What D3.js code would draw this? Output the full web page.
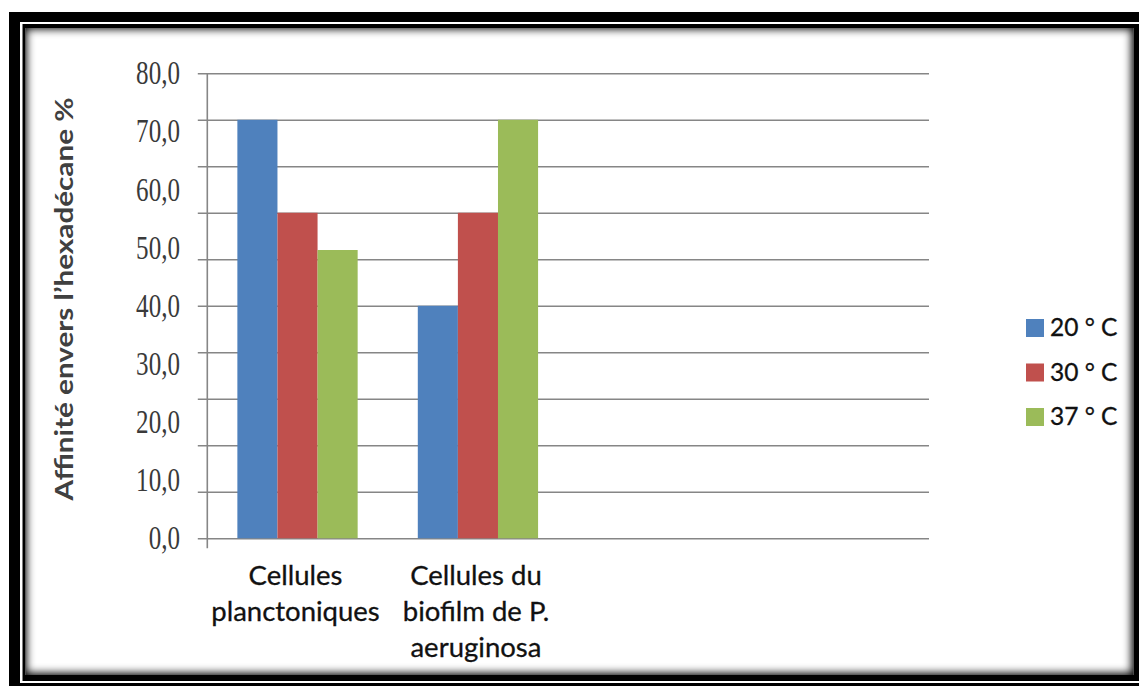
<!DOCTYPE html>
<html>
<head>
<meta charset="utf-8">
<script src="https://cdn.jsdelivr.net/npm/d3@7"></script>
<style>
  html, body { margin: 0; padding: 0; background: #fff; }
  svg { display: block; }
</style>
</head>
<body>
<svg id="chart" width="1139" height="686"></svg>
<script>
// Hydrophobicity (affinity for hexadecane) of P. aeruginosa cells by growth temperature
const categories = [["Cellules", "planctoniques"], ["Cellules du", "biofilm de P.", "aeruginosa"]];
const series = ["20 ° C", "30 ° C", "37 ° C"];
const values20 = [72, 40];
const values30 = [56, 56];
const values37 = [49.6, 72];
const yTickLabels = ["0,0", "10,0", "20,0", "30,0", "40,0", "50,0", "60,0", "70,0", "80,0"];
const yLabelValues = [0, 10, 20, 30, 40, 50, 60, 70, 80];
const yGridValues = [0, 8, 16, 24, 32, 40, 48, 56, 64, 72, 80];
const seriesValues = [values20, values30, values37];
const colors = ["#4F81BD", "#C0504D", "#9BBB59"];

const W = 1139, H = 686;
const svg = d3.select("#chart");
const defs = svg.append("defs");

// ---- double frame with inner shadow ----
svg.append("rect").attr("width", W).attr("height", H).attr("fill", "#fff");
svg.append("rect").attr("x", 9).attr("y", 12).attr("width", W).attr("height", H).attr("fill", "#000");
svg.append("rect").attr("x", 20).attr("y", 22).attr("width", W).attr("height", 661).attr("fill", "#fff");
svg.append("rect").attr("x", 22.5).attr("y", 24).attr("width", W).attr("height", 657).attr("fill", "#000");

const inner = { x: 25.5, y: 28, w: 1108, h: 647 };
svg.append("rect").attr("x", inner.x).attr("y", inner.y).attr("width", inner.w).attr("height", inner.h).attr("fill", "#fff");

defs.append("clipPath").attr("id", "innerClip")
  .append("rect").attr("x", inner.x).attr("y", inner.y).attr("width", inner.w).attr("height", inner.h);
defs.append("filter").attr("id", "shadowBlur").attr("x", "-10%").attr("y", "-10%").attr("width", "120%").attr("height", "120%")
  .append("feGaussianBlur").attr("stdDeviation", 4.5);
svg.append("g").attr("clip-path", "url(#innerClip)")
  .append("path")
  .attr("fill-rule", "evenodd")
  .attr("fill", "#000")
  .attr("filter", "url(#shadowBlur)")
  .attr("d", `M-40,-40H${W + 40}V${H + 40}H-40Z M${inner.x + 1},${inner.y + 1}V${inner.y + inner.h - 2}H${inner.x + inner.w - 2}V${inner.y + 1}Z`);

// ---- scales ----
const plot = { left: 207.3, right: 929, top: 73.3, bottom: 538.3 };
const slots = d3.range(4); // two categories plus two empty slots
const x = d3.scaleBand().domain(slots).range([plot.left, plot.right]).paddingInner(0).paddingOuter(0);
const xs = d3.scaleBand().domain(d3.range(series.length)).range([0, x.bandwidth()]).paddingInner(0).paddingOuter(0.75);
const y = d3.scaleLinear().domain([0, 80]).range([plot.bottom, plot.top]);

const gridColor = "#868686";

// gridlines (extend left of the axis as tick marks)
svg.append("g")
  .attr("transform", `translate(${plot.left},0)`)
  .call(d3.axisLeft(y).tickValues(yGridValues).tickSize(-(plot.right - plot.left)).tickFormat(""))
  .call(g => g.select(".domain").remove())
  .call(g => g.selectAll(".tick line").attr("stroke", gridColor).attr("stroke-width", 1.6).attr("x1", -9.5));

// bars
const barG = svg.append("g");
seriesValues.forEach((vals, si) => {
  barG.selectAll(null)
    .data(vals)
    .enter().append("rect")
    .attr("x", (d, i) => x(i) + xs(si))
    .attr("y", d => y(d))
    .attr("width", xs.bandwidth())
    .attr("height", d => y(0) - y(d))
    .attr("fill", colors[si]);
});

// y axis line
svg.append("line")
  .attr("x1", plot.left).attr("x2", plot.left)
  .attr("y1", plot.top).attr("y2", plot.bottom + 10)
  .attr("stroke", gridColor).attr("stroke-width", 1.6);

// y tick labels
svg.append("g").selectAll("text")
  .data(yLabelValues)
  .enter().append("text")
  .attr("transform", d => `translate(180,${y(d) + 11}) scale(0.76,1)`)
  .attr("text-anchor", "end")
  .attr("font-family", "'Liberation Serif', 'DejaVu Serif', serif")
  .attr("font-size", 33)
  .attr("fill", "#3a3a3a")
  .text((d, i) => yTickLabels[i]);

// y axis title
svg.append("text")
  .attr("transform", `translate(73,299) rotate(-90)`)
  .attr("text-anchor", "middle")
  .attr("font-family", "Lato, 'Open Sans', sans-serif")
  .attr("font-weight", "bold")
  .attr("font-size", 25)
  .attr("fill", "#404040")
  .attr("textLength", 403)
  .attr("lengthAdjust", "spacingAndGlyphs")
  .text("Affinité envers l’hexadécane %");

// category labels
const catG = svg.append("g");
categories.forEach((lines, i) => {
  const t = catG.append("text")
    .attr("text-anchor", "middle")
    .attr("font-family", "Lato, 'Open Sans', sans-serif")
    .attr("font-size", 27.5)
    .attr("fill", "#111")
    .attr("stroke", "#111")
    .attr("stroke-width", 0.3);
  lines.forEach((ln, j) => {
    t.append("tspan")
      .attr("x", x(i) + x.bandwidth() / 2 - 2)
      .attr("y", 585 + j * 36)
      .text(ln);
  });
});

// legend
const legend = svg.append("g").attr("transform", "translate(1026,319)");
series.forEach((s, i) => {
  const g = legend.append("g").attr("transform", `translate(0,${i * 44.5})`);
  g.append("rect").attr("width", 18).attr("height", 18).attr("fill", colors[i]);
  g.append("text")
    .attr("x", 24).attr("y", 17)
    .attr("font-family", "Lato, 'Open Sans', sans-serif")
    .attr("font-size", 24.5)
    .attr("fill", "#111")
    .attr("stroke", "#111")
    .attr("stroke-width", 0.3)
    .text(s);
});
</script>
</body>
</html>
